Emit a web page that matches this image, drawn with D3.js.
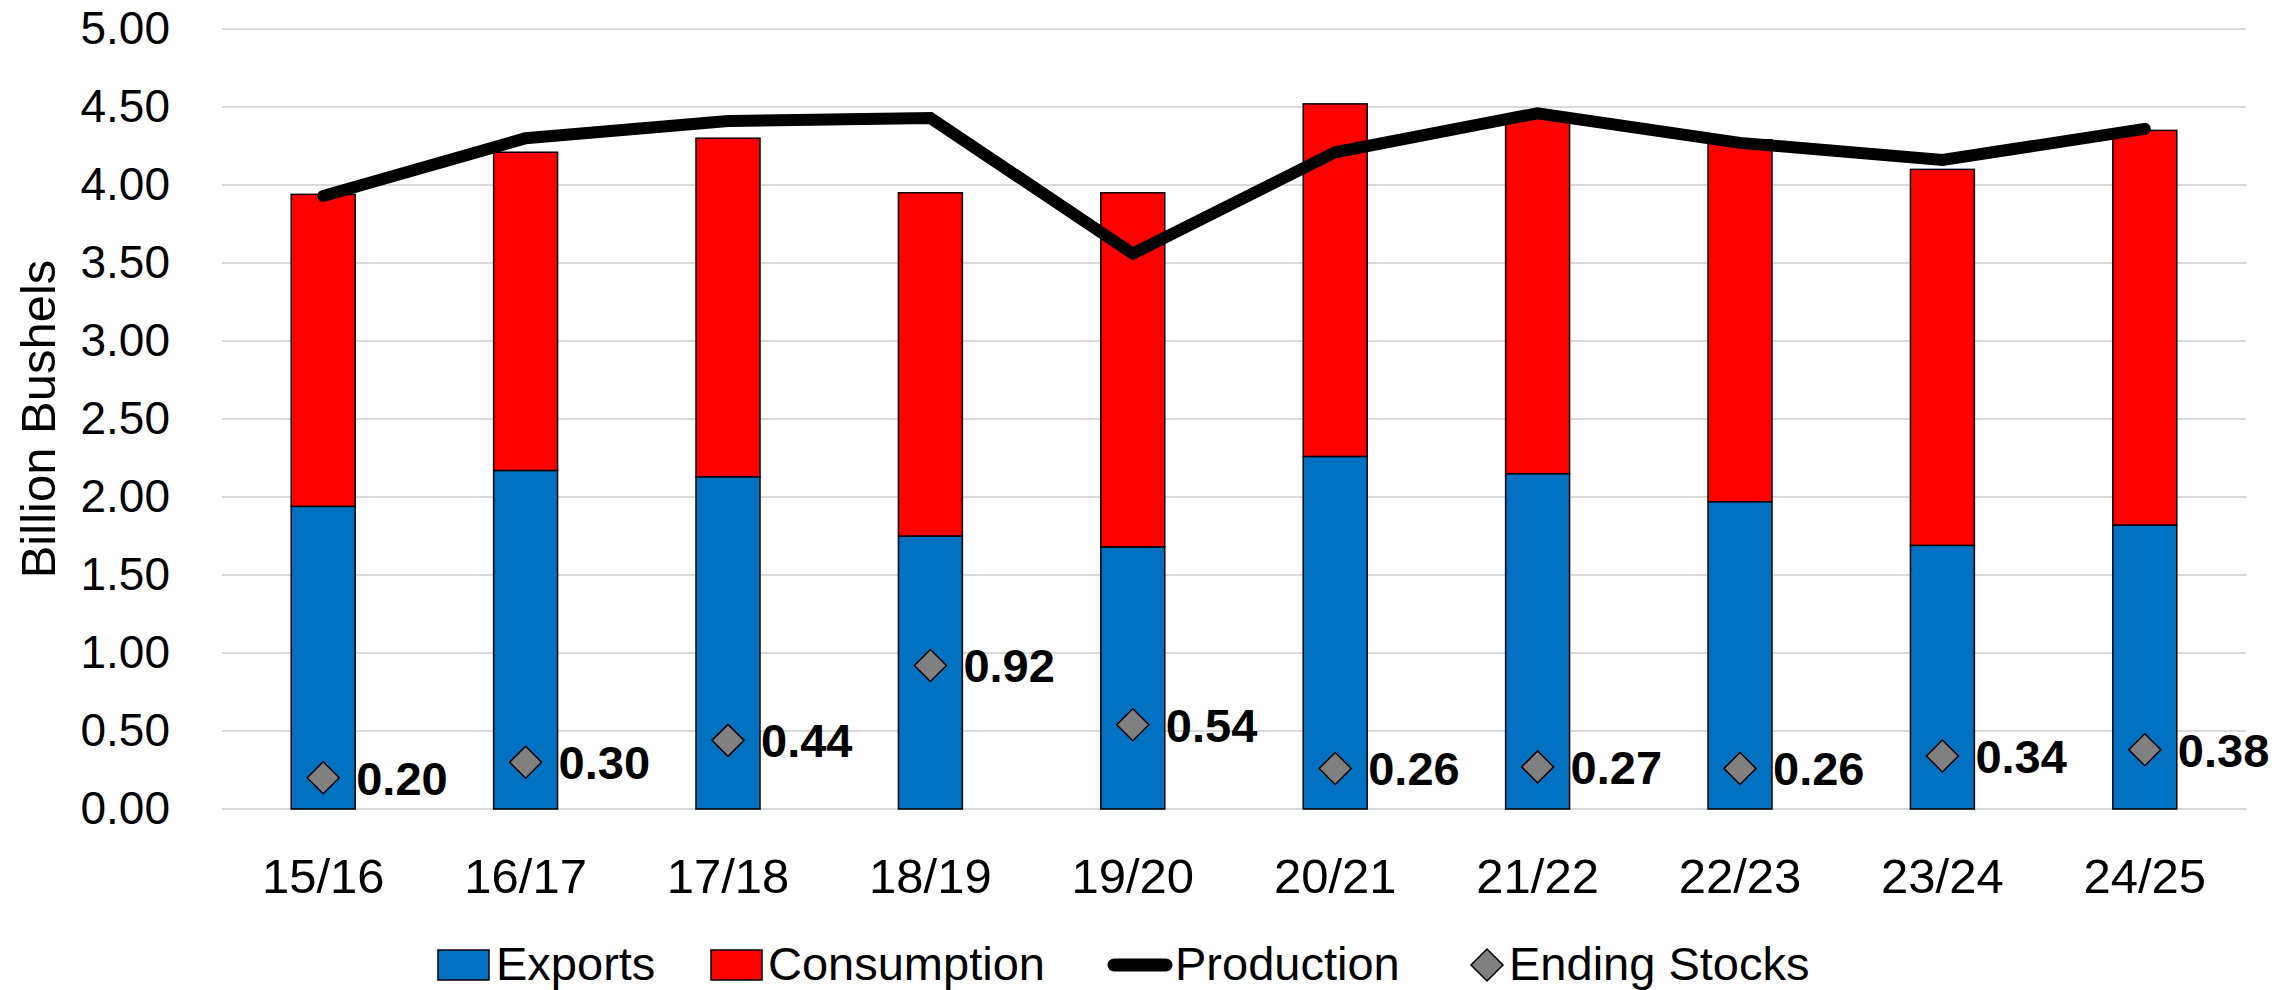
<!DOCTYPE html>
<html>
<head>
<meta charset="utf-8">
<script src="https://cdn.jsdelivr.net/npm/d3@7"></script>
<style>
  body { margin: 0; background: #fff; }
  svg { display: block; font-family: "Liberation Sans", Arial, sans-serif; }
</style>
</head>
<body>
<script>
'use strict';
// 데이터 (billion bushels)
const years = ['15/16', '16/17', '17/18', '18/19', '19/20', '20/21', '21/22', '22/23', '23/24', '24/25'];
const exportsVals = [1.94, 2.17, 2.13, 1.75, 1.68, 2.26, 2.15, 1.97, 1.69, 1.82];
const consumptionVals = [2.00, 2.04, 2.17, 2.20, 2.27, 2.26, 2.29, 2.32, 2.41, 2.53];
const productionVals = [3.93, 4.30, 4.41, 4.43, 3.56, 4.21, 4.46, 4.27, 4.16, 4.36];
const endingStocks = [0.20, 0.30, 0.44, 0.92, 0.54, 0.26, 0.27, 0.26, 0.34, 0.38];
const yTicks = [0, 0.5, 1, 1.5, 2, 2.5, 3, 3.5, 4, 4.5, 5];
const legendNames = ['Exports', 'Consumption', 'Production', 'Ending Stocks'];

const W = 2293, H = 990;
const plotLeft = 222, plotRight = 2246, plotTop = 29, plotBottom = 809;

const svg = d3.select(document.body).append('svg')
  .attr('width', W).attr('height', H);

const x = d3.scaleBand()
  .domain(years)
  .range([plotLeft, plotRight])
  .paddingInner(0.684)
  .paddingOuter(0.342);
const y = d3.scaleLinear().domain([0, 5]).range([plotBottom, plotTop]);
const cx = d => x(d) + x.bandwidth() / 2;

// 그리드
svg.append('g').selectAll('line')
  .data(yTicks).enter().append('line')
  .attr('x1', plotLeft).attr('x2', plotRight)
  .attr('y1', d => y(d)).attr('y2', d => y(d))
  .attr('stroke', '#d9d9d9').attr('stroke-width', 2);

// y축 눈금
const yAxis = svg.append('g')
  .attr('transform', `translate(${plotLeft},0)`)
  .call(d3.axisLeft(y).tickValues(yTicks).tickSize(0).tickPadding(52).tickFormat(d => d.toFixed(2)));
yAxis.select('.domain').remove();
yAxis.selectAll('text').attr('font-size', 46).attr('fill', '#000').attr('font-family', null);

// x축 라벨
const xAxis = svg.append('g')
  .attr('transform', `translate(0,${plotBottom})`)
  .call(d3.axisBottom(x).tickSize(0));
xAxis.select('.domain').remove();
xAxis.selectAll('text').attr('font-size', 49).attr('fill', '#000')
  .attr('font-family', null).attr('y', 84).attr('dy', null);

// y축 제목
svg.append('text')
  .attr('transform', `translate(55,${(plotTop + plotBottom) / 2}) rotate(-90)`)
  .attr('text-anchor', 'middle')
  .attr('font-size', 49)
  .text('Billion Bushels');

// 막대 (stacked)
const bars = svg.append('g');
bars.selectAll('rect.exp')
  .data(years).enter().append('rect')
  .attr('class', 'exp')
  .attr('x', d => x(d)).attr('width', x.bandwidth())
  .attr('y', (d, i) => y(exportsVals[i]))
  .attr('height', (d, i) => y(0) - y(exportsVals[i]))
  .attr('fill', '#0070C0').attr('stroke', '#000').attr('stroke-width', 1.5);
bars.selectAll('rect.con')
  .data(years).enter().append('rect')
  .attr('class', 'con')
  .attr('x', d => x(d)).attr('width', x.bandwidth())
  .attr('y', (d, i) => y(exportsVals[i] + consumptionVals[i]))
  .attr('height', (d, i) => y(exportsVals[i]) - y(exportsVals[i] + consumptionVals[i]))
  .attr('fill', '#FF0000').attr('stroke', '#000').attr('stroke-width', 1.5);

// 생산량 선
const line = d3.line()
  .x((d, i) => cx(years[i]))
  .y(d => y(d));
svg.append('path')
  .attr('d', line(productionVals))
  .attr('fill', 'none').attr('stroke', '#000')
  .attr('stroke-width', 12).attr('stroke-linecap', 'round').attr('stroke-linejoin', 'miter');

// 기말재고 마커 + 라벨
const diamond = (px, py, r) => `M${px},${py - r}L${px + r},${py}L${px},${py + r}L${px - r},${py}Z`;
const stocks = svg.append('g');
stocks.selectAll('path')
  .data(endingStocks).enter().append('path')
  .attr('d', (d, i) => diamond(cx(years[i]), y(d), 16))
  .attr('fill', '#808080').attr('stroke', '#000').attr('stroke-width', 1.5);
stocks.selectAll('text')
  .data(endingStocks).enter().append('text')
  .attr('x', (d, i) => cx(years[i]) + 33)
  .attr('y', d => y(d))
  .attr('dy', '0.36em')
  .attr('font-size', 47).attr('font-weight', 'bold')
  .text(d => d.toFixed(2));

// 범례
const leg = svg.append('g');
const legY = 965;
leg.append('rect').attr('x', 438).attr('y', 950).attr('width', 51).attr('height', 30)
  .attr('fill', '#0070C0').attr('stroke', '#000').attr('stroke-width', 1.5);
leg.append('rect').attr('x', 711).attr('y', 950).attr('width', 51).attr('height', 30)
  .attr('fill', '#FF0000').attr('stroke', '#000').attr('stroke-width', 1.5);
leg.append('line').attr('x1', 1114).attr('x2', 1166).attr('y1', legY).attr('y2', legY)
  .attr('stroke', '#000').attr('stroke-width', 13).attr('stroke-linecap', 'round');
leg.append('path').attr('d', diamond(1487, legY, 16))
  .attr('fill', '#808080').attr('stroke', '#000').attr('stroke-width', 1.5);
const legTextX = [496, 768, 1175, 1509];
leg.selectAll('text')
  .data(legendNames).enter().append('text')
  .attr('x', (d, i) => legTextX[i])
  .attr('y', 980)
  .attr('font-size', 47)
  .text(d => d);
</script>
</body>
</html>
